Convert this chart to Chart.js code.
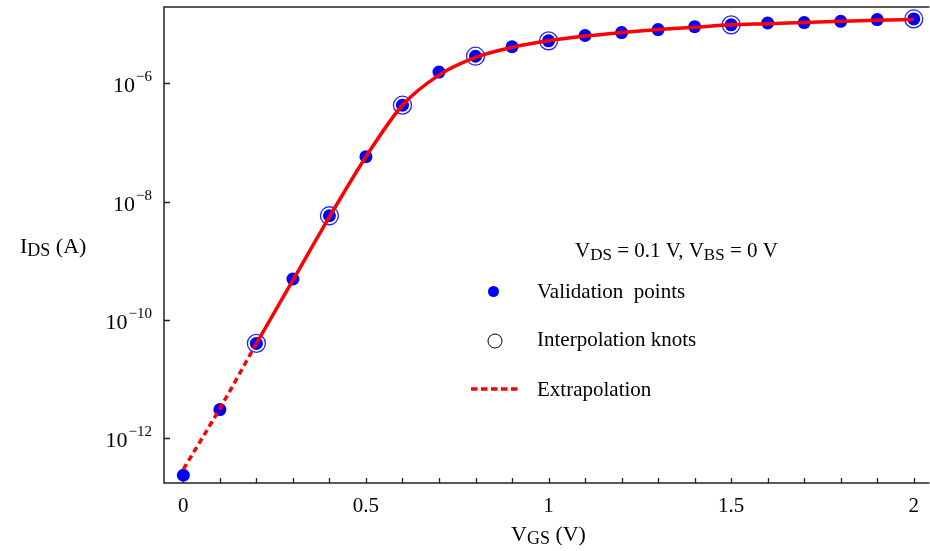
<!DOCTYPE html>
<html>
<head>
<meta charset="utf-8">
<script src="https://cdn.jsdelivr.net/npm/chart.js@4.4.1/dist/chart.umd.min.js"></script>
<style>
  html, body { margin: 0; padding: 0; background: #fff; }
  #ids { display: block; }
</style>
</head>
<body>
<canvas id="ids" width="930" height="551"></canvas>
<script>
// validation points (blue dots)
const vgsPoints = [0, 0.1, 0.2, 0.3, 0.4, 0.5, 0.6, 0.7, 0.8, 0.9, 1.0,
                   1.1, 1.2, 1.3, 1.4, 1.5, 1.6, 1.7, 1.8, 1.9, 2.0];
const idsPoints = [2.34e-13, 3.02e-12, 3.98e-11, 4.90e-10, 5.75e-9, 5.75e-8, 4.27e-7,
                   1.55e-6, 2.88e-6, 4.17e-6, 5.25e-6, 6.46e-6, 7.24e-6, 8.13e-6,
                   9.12e-6, 9.77e-6, 1.05e-5, 1.07e-5, 1.12e-5, 1.20e-5, 1.23e-5];

// interpolation knots (open rings)
const knotVgs = [0.2, 0.4, 0.6, 0.8, 1.0, 1.5, 2.0];
const knotIds = [3.98e-11, 5.75e-9, 4.27e-7, 2.88e-6, 5.25e-6, 9.77e-6, 1.23e-5];

// interpolated model curve (solid red)
const curveVgs = [0.2, 0.3, 0.4, 0.5, 0.6, 0.7, 0.8, 0.9, 1.0, 1.1,
                  1.2, 1.3, 1.4, 1.5, 1.6, 1.7, 1.8, 1.9, 2.0];
const curveIds = [3.98e-11, 4.68e-10, 5.50e-9, 5.75e-8, 4.27e-7, 1.38e-6, 2.75e-6,
                  4.07e-6, 5.25e-6, 6.31e-6, 7.24e-6, 8.13e-6, 8.91e-6, 9.77e-6,
                  1.02e-5, 1.07e-5, 1.12e-5, 1.17e-5, 1.20e-5];

// extrapolation below the first knot (dashed red)
const extrapVgs = [0, 0.1, 0.2];
const extrapIds = [2.95e-13, 3.16e-12, 3.98e-11];

const xLabelValues = [0, 0.5, 1, 1.5, 2];
const yTickValues = [1e-12, 1e-10, 1e-8, 1e-6];

const SERIF = '"Liberation Serif", "Times New Roman", serif';
const font = size => `${size}px ${SERIF}`;
const toXY = (xs, ys) => xs.map((x, i) => ({ x: x, y: ys[i] }));

// text pieces: [text, isSubscript]
const drawRuns = (ctx, x, baseline, runs, size, subSize) => {
  ctx.textAlign = 'left';
  ctx.textBaseline = 'alphabetic';
  runs.forEach(([txt, sub]) => {
    ctx.font = font(sub ? subSize : size);
    ctx.fillText(txt, x, baseline + (sub ? 3 : 0));
    x += ctx.measureText(txt).width;
  });
};

const decorations = {
  id: 'decorations',
  afterDraw(chart) {
    const { ctx, chartArea, scales } = chart;
    const { left, right, top, bottom } = chartArea;
    const x = scales.x, y = scales.y;
    ctx.save();

    // frame
    ctx.strokeStyle = '#222';
    ctx.lineWidth = 1.5;
    ctx.beginPath();
    ctx.moveTo(right, top); ctx.lineTo(left, top);
    ctx.lineTo(left, bottom); ctx.lineTo(right, bottom);
    ctx.stroke();

    // inward ticks
    ctx.lineWidth = 1.3;
    ctx.beginPath();
    x.ticks.forEach(t => {
      if (t.value < x.min || t.value > x.max) return;
      const px = Math.round(x.getPixelForValue(t.value)) + 0.5;
      ctx.moveTo(px, bottom); ctx.lineTo(px, bottom - 5);
    });
    y.ticks.forEach(t => {
      const py = Math.round(y.getPixelForValue(t.value)) + 0.5;
      ctx.moveTo(left, py); ctx.lineTo(left + 6, py);
    });
    ctx.stroke();

    // y tick labels 10^n
    ctx.fillStyle = '#000';
    ctx.textBaseline = 'alphabetic';
    y.ticks.forEach(t => {
      const py = y.getPixelForValue(t.value);
      const exp = Math.round(Math.log10(t.value));
      const sup = '\u2212' + Math.abs(exp);
      ctx.textAlign = 'right';
      ctx.font = font(15);
      ctx.fillText(sup, 152, py - 2);
      const w = ctx.measureText(sup).width;
      ctx.font = font(22);
      ctx.fillText('10', 152 - w - 1, py + 9);
    });

    // axis titles
    drawRuns(ctx, 20, 253, [['I', false], ['DS', true], [' (A)', false]], 22, 18);
    drawRuns(ctx, 511, 541, [['V', false], ['GS', true], [' (V)', false]], 22, 18);

    // condition text
    drawRuns(ctx, 575, 257, [['V', false], ['DS', true], [' = 0.1 V, V', false],
                             ['BS', true], [' = 0 V', false]], 21, 17);

    // legend
    ctx.fillStyle = '#0000ff';
    ctx.beginPath();
    ctx.arc(493.5, 291.5, 5.5, 0, Math.PI * 2);
    ctx.fill();

    ctx.strokeStyle = '#000';
    ctx.lineWidth = 1;
    ctx.beginPath();
    ctx.arc(495, 341, 7, 0, Math.PI * 2);
    ctx.stroke();

    ctx.strokeStyle = '#ff0000';
    ctx.lineWidth = 3.5;
    ctx.setLineDash([6.5, 3.5]);
    ctx.beginPath();
    ctx.moveTo(471, 389); ctx.lineTo(518, 389);
    ctx.stroke();
    ctx.setLineDash([]);

    ctx.fillStyle = '#000';
    drawRuns(ctx, 537, 297.5, [['Validation  points', false]], 21, 17);
    drawRuns(ctx, 537, 346, [['Interpolation knots', false]], 21, 17);
    drawRuns(ctx, 537, 395.5, [['Extrapolation', false]], 21, 17);

    ctx.restore();
  }
};

new Chart(document.getElementById('ids'), {
  type: 'scatter',
  data: {
    datasets: [
      {
        label: 'Interpolation',
        data: toXY(curveVgs, curveIds),
        showLine: true,
        borderColor: '#ff0000',
        borderWidth: 3.5,
        cubicInterpolationMode: 'monotone',
        pointRadius: 0,
        order: 1
      },
      {
        label: 'Extrapolation',
        data: toXY(extrapVgs, extrapIds),
        showLine: true,
        borderColor: '#ff0000',
        borderWidth: 3.5,
        borderDash: [6, 4],
        cubicInterpolationMode: 'monotone',
        pointRadius: 0,
        order: 1
      },
      {
        label: 'Interpolation knots',
        data: toXY(knotVgs, knotIds),
        pointStyle: 'circle',
        pointRadius: 9,
        backgroundColor: 'rgba(0,0,0,0)',
        borderColor: '#2020ff',
        borderWidth: 1.3,
        order: 2
      },
      {
        label: 'Validation points',
        data: toXY(vgsPoints, idsPoints),
        pointStyle: 'circle',
        pointRadius: 6.5,
        backgroundColor: '#0000ff',
        borderWidth: 0,
        order: 3
      }
    ]
  },
  options: {
    responsive: false,
    animation: false,
    devicePixelRatio: 1,
    layout: { autoPadding: false, padding: { top: 7, right: 0, bottom: 0, left: 0 } },
    plugins: { legend: { display: false }, tooltip: { enabled: false } },
    scales: {
      x: {
        type: 'linear',
        min: -0.053,
        max: 2.043,
        grid: { display: false, drawTicks: false },
        border: { display: false },
        ticks: {
          stepSize: 0.1,
          includeBounds: false,
          autoSkip: false,
          maxRotation: 0,
          padding: 11,
          color: '#000',
          font: { family: SERIF, size: 21 },
          callback: v => xLabelValues.some(l => Math.abs(l - v) < 1e-6) ? String(Math.round(v * 10) / 10) : ''
        },
        afterFit: s => { s.height = 68; }
      },
      y: {
        type: 'logarithmic',
        min: 1.73e-13,
        max: 1.96e-5,
        grid: { display: false, drawTicks: false },
        border: { display: false },
        ticks: { display: false },
        afterBuildTicks: s => { s.ticks = yTickValues.map(v => ({ value: v })); },
        afterFit: s => { s.width = 164; }
      }
    }
  },
  plugins: [decorations]
});
</script>
</body>
</html>
